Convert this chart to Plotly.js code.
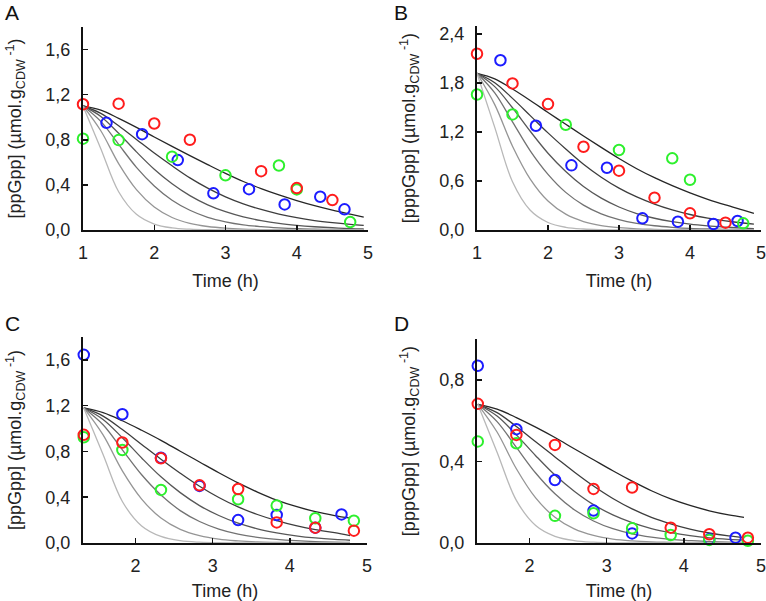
<!DOCTYPE html>
<html>
<head>
<meta charset="utf-8">
<script src="https://cdn.plot.ly/plotly-3.0.1.min.js"></script>
<style>
  html, body { margin: 0; padding: 0; background: #ffffff; }
  #chart { width: 766px; height: 601px; }
</style>
</head>
<body>
<div id="chart"></div>
<script>
// ---------- Panel A : [ppGpp] ----------
const A_redT   = [1, 1.5, 2, 2.5, 3.5, 4, 4.5];
const A_red    = [1.115, 1.12, 0.944, 0.80, 0.522, 0.372, 0.265];
const A_blueT  = [1.33, 1.83, 2.33, 2.83, 3.33, 3.83, 4.33, 4.67];
const A_blue   = [0.95, 0.85, 0.62, 0.325, 0.362, 0.227, 0.295, 0.183];
const A_greenT = [1, 1.5, 2.25, 3, 3.75, 4, 4.75];
const A_green  = [0.81, 0.797, 0.65, 0.485, 0.572, 0.36, 0.07];
const A_curveT = [1, 1.25, 1.5, 1.75, 2, 2.25, 2.5, 2.75, 3, 3.25, 3.5, 3.75, 4, 4.25, 4.5, 4.75, 4.94];
const A_curve1 = [1.10, 1.062, 0.99, 0.91, 0.825, 0.742, 0.66, 0.58, 0.502, 0.43, 0.367, 0.311, 0.261, 0.216, 0.176, 0.14, 0.114];
const A_curve2 = [1.10, 1.034, 0.924, 0.803, 0.682, 0.569, 0.462, 0.371, 0.294, 0.232, 0.182, 0.141, 0.109, 0.084, 0.065, 0.05, 0.041];
const A_curve3 = [1.10, 1.007, 0.858, 0.693, 0.539, 0.41, 0.305, 0.223, 0.162, 0.116, 0.083, 0.058, 0.041, 0.029, 0.02, 0.013, 0.01];
const A_curve4 = [1.10, 0.963, 0.759, 0.556, 0.391, 0.264, 0.175, 0.113, 0.073, 0.046, 0.03, 0.019, 0.011, 0.007, 0.004, 0.002, 0.002];
const A_curve5 = [1.10, 0.88, 0.589, 0.358, 0.204, 0.111, 0.059, 0.031, 0.016, 0.008, 0.004, 0.002, 0.001, 0, 0, 0, 0];
const A_curve6 = [1.10, 0.721, 0.339, 0.139, 0.053, 0.019, 0.007, 0.002, 0.001, 0, 0, 0, 0, 0, 0, 0, 0];

// ---------- Panel B : [pppGpp] ----------
const B_redT   = [1, 1.5, 2, 2.5, 3, 3.5, 4, 4.5];
const B_red    = [2.16, 1.796, 1.543, 1.02, 0.727, 0.396, 0.204, 0.09];
const B_blueT  = [1.33, 1.83, 2.33, 2.83, 3.33, 3.83, 4.33, 4.67];
const B_blue   = [2.08, 1.278, 0.792, 0.763, 0.143, 0.102, 0.073, 0.11];
const B_greenT = [1, 1.5, 2.25, 3, 3.75, 4, 4.75];
const B_green  = [1.66, 1.416, 1.29, 0.98, 0.878, 0.616, 0.082];
const B_curveT = [1, 1.25, 1.5, 1.75, 2, 2.25, 2.5, 2.75, 3, 3.25, 3.5, 3.75, 4, 4.25, 4.5, 4.75, 4.9];
const B_curve1 = [1.92, 1.853, 1.728, 1.588, 1.44, 1.296, 1.152, 1.012, 0.876, 0.751, 0.641, 0.543, 0.455, 0.376, 0.307, 0.244, 0.205];
const B_curve2 = [1.92, 1.805, 1.613, 1.402, 1.19, 0.993, 0.806, 0.647, 0.513, 0.405, 0.317, 0.246, 0.19, 0.146, 0.113, 0.086, 0.073];
const B_curve3 = [1.92, 1.757, 1.498, 1.21, 0.941, 0.716, 0.532, 0.39, 0.282, 0.202, 0.144, 0.102, 0.071, 0.05, 0.035, 0.023, 0.018];
const B_curve4 = [1.92, 1.68, 1.325, 0.97, 0.682, 0.461, 0.305, 0.198, 0.127, 0.081, 0.052, 0.033, 0.019, 0.012, 0.008, 0.004, 0.003];
const B_curve5 = [1.92, 1.536, 1.027, 0.624, 0.355, 0.194, 0.104, 0.054, 0.028, 0.014, 0.008, 0.004, 0.002, 0, 0, 0, 0];
const B_curve6 = [1.92, 1.258, 0.591, 0.242, 0.092, 0.033, 0.012, 0.004, 0.001, 0, 0, 0, 0, 0, 0, 0, 0];

// ---------- Panel C : [ppGpp] ----------
const C_redT   = [1.33, 1.83, 2.33, 2.83, 3.33, 3.83, 4.33, 4.83];
const C_red    = [0.945, 0.878, 0.74, 0.504, 0.472, 0.18, 0.134, 0.108];
const C_blueT  = [1.33, 1.83, 2.33, 2.83, 3.33, 3.83, 4.33, 4.67];
const C_blue   = [1.644, 1.125, 0.745, 0.499, 0.20, 0.245, 0.134, 0.25];
const C_greenT = [1.33, 1.83, 2.33, 3.33, 3.83, 4.33, 4.83];
const C_green  = [0.924, 0.813, 0.464, 0.382, 0.327, 0.216, 0.195];
const C_curveT = [1.33, 1.58, 1.83, 2.08, 2.33, 2.58, 2.83, 3.08, 3.33, 3.58, 3.83, 4.08, 4.33, 4.58, 4.78];
const C_curve1 = [1.18, 1.139, 1.068, 0.985, 0.897, 0.802, 0.708, 0.614, 0.525, 0.445, 0.375, 0.319, 0.274, 0.24, 0.218];
const C_curve2 = [1.18, 1.109, 0.991, 0.861, 0.732, 0.61, 0.496, 0.398, 0.315, 0.249, 0.195, 0.151, 0.117, 0.09, 0.065];
const C_curve3 = [1.18, 1.08, 0.92, 0.743, 0.578, 0.44, 0.327, 0.24, 0.173, 0.124, 0.089, 0.063, 0.044, 0.031, 0.024];
const C_curve4 = [1.18, 1.033, 0.814, 0.596, 0.419, 0.283, 0.188, 0.122, 0.078, 0.05, 0.032, 0.02, 0.012, 0.007, 0.005];
const C_curve5 = [1.18, 0.944, 0.631, 0.384, 0.218, 0.119, 0.064, 0.033, 0.018, 0.009, 0.005, 0.002, 0.001, 0, 0];
const C_curve6 = [1.18, 0.773, 0.363, 0.149, 0.057, 0.02, 0.007, 0.002, 0.001, 0, 0, 0, 0, 0, 0];

// ---------- Panel D : [pppGpp] ----------
const D_redT   = [1.33, 1.83, 2.33, 2.83, 3.33, 3.83, 4.33, 4.83];
const D_red    = [0.682, 0.53, 0.481, 0.265, 0.272, 0.075, 0.043, 0.026];
const D_blueT  = [1.33, 1.83, 2.33, 2.83, 3.33, 4.33, 4.67];
const D_blue   = [0.869, 0.558, 0.309, 0.159, 0.047, 0.018, 0.026];
const D_greenT = [1.33, 1.83, 2.33, 2.83, 3.33, 3.83, 4.33, 4.83];
const D_green  = [0.498, 0.489, 0.133, 0.146, 0.072, 0.039, 0.015, 0.011];
const D_curveT = [1.33, 1.58, 1.83, 2.08, 2.33, 2.58, 2.83, 3.08, 3.33, 3.58, 3.83, 4.08, 4.33, 4.58, 4.78];
const D_curve1 = [0.68, 0.656, 0.615, 0.568, 0.517, 0.462, 0.408, 0.354, 0.303, 0.256, 0.216, 0.184, 0.158, 0.138, 0.126];
const D_curve2 = [0.68, 0.639, 0.571, 0.496, 0.422, 0.348, 0.279, 0.218, 0.167, 0.126, 0.094, 0.068, 0.049, 0.035, 0.027];
const D_curve3 = [0.68, 0.622, 0.53, 0.428, 0.333, 0.254, 0.188, 0.138, 0.1, 0.071, 0.051, 0.036, 0.025, 0.018, 0.014];
const D_curve4 = [0.68, 0.595, 0.469, 0.343, 0.241, 0.163, 0.108, 0.07, 0.045, 0.029, 0.018, 0.012, 0.007, 0.004, 0.003];
const D_curve5 = [0.68, 0.544, 0.364, 0.221, 0.126, 0.069, 0.037, 0.019, 0.01, 0.005, 0.003, 0.001, 0.001, 0, 0];
const D_curve6 = [0.68, 0.445, 0.209, 0.086, 0.033, 0.012, 0.004, 0.001, 0.001, 0, 0, 0, 0, 0, 0];

// ---------- styling ----------
const curveColors = ['#262626', '#3d3d3d', '#575757', '#727272', '#959595', '#b8b8b8'];
const RED = '#ff1c1c', BLUE = '#1c1cff', GREEN = '#2ef02e';
const FONT = 'Liberation Sans, Arial, sans-serif';

const panels = [
  {xa:'x',  ya:'y',  curveT:A_curveT, curves:[A_curve1,A_curve2,A_curve3,A_curve4,A_curve5,A_curve6],
   blue:[A_blueT,A_blue], green:[A_greenT,A_green], red:[A_redT,A_red]},
  {xa:'x2', ya:'y2', curveT:B_curveT, curves:[B_curve1,B_curve2,B_curve3,B_curve4,B_curve5,B_curve6],
   blue:[B_blueT,B_blue], green:[B_greenT,B_green], red:[B_redT,B_red]},
  {xa:'x3', ya:'y3', curveT:C_curveT, curves:[C_curve1,C_curve2,C_curve3,C_curve4,C_curve5,C_curve6],
   blue:[C_blueT,C_blue], green:[C_greenT,C_green], red:[C_redT,C_red]},
  {xa:'x4', ya:'y4', curveT:D_curveT, curves:[D_curve1,D_curve2,D_curve3,D_curve4,D_curve5,D_curve6],
   blue:[D_blueT,D_blue], green:[D_greenT,D_green], red:[D_redT,D_red]}
];

const traces = [];
panels.forEach(p => {
  p.curves.forEach((c, i) => {
    traces.push({x:p.curveT, y:c, xaxis:p.xa, yaxis:p.ya, type:'scatter', mode:'lines',
      line:{color:curveColors[i], width:1.3, shape:'spline', smoothing:1},
      hoverinfo:'skip', showlegend:false});
  });
  [['blue',BLUE],['green',GREEN],['red',RED]].forEach(([k,col]) => {
    traces.push({x:p[k][0], y:p[k][1], xaxis:p.xa, yaxis:p.ya, type:'scatter', mode:'markers',
      marker:{symbol:'circle-open', size:10.5, color:col, line:{color:col, width:2}},
      cliponaxis:false, showlegend:false});
  });
});

function xAxis(domain, range, anchor) {
  return {domain:domain, range:range, anchor:anchor, showgrid:false, zeroline:false,
    showline:true, linecolor:'#111', linewidth:2, mirror:false,
    ticks:'inside', ticklen:5, tickwidth:1.5, tickcolor:'#111',
    tick0:0, dtick:1, ticklabelstandoff:5, ticklabeloverflow:'allow',
    tickfont:{family:FONT, size:18, color:'#222'},
    title:{text:'Time (h)', font:{family:FONT, size:18, color:'#222'}, standoff:13}};
}
function yAxis(domain, range, dtick, anchor, label) {
  return {domain:domain, range:range, anchor:anchor, showgrid:false, zeroline:false,
    showline:true, linecolor:'#111', linewidth:2,
    ticks:'inside', ticklen:5, tickwidth:1.5, tickcolor:'#111',
    tick0:0, dtick:dtick, tickformat:'.1f', ticklabelstandoff:7, ticklabeloverflow:'allow',
    tickfont:{family:FONT, size:18, color:'#222'},
    title:{text:label, font:{family:FONT, size:18, color:'#222'}, standoff:19}};
}

const W = 766, H = 601;
const dx = (a,b) => [a/W, b/W];
const dy = (top,bottom) => [(H-bottom)/H, (H-top)/H];

const ppLabel  = '[ppGpp] (µmol.g<sub>CDW</sub><sup> -1</sup>)';
const pppLabel = '[pppGpp] (µmol.g<sub>CDW</sub><sup> -1</sup>)';

const layout = {
  width:W, height:H, margin:{l:0, r:0, t:0, b:0},
  paper_bgcolor:'#ffffff', plot_bgcolor:'rgba(0,0,0,0)',
  separators:',.', showlegend:false,
  font:{family:FONT, color:'#222'},
  xaxis:  xAxis(dx(83,368), [1,5], 'y'),
  yaxis:  yAxis(dy(27,230), [0,1.8], 0.4, 'x', ppLabel),
  xaxis2: xAxis(dx(477,761), [1,5], 'y2'),
  yaxis2: yAxis(dy(26,230), [0,2.5], 0.6, 'x2', pppLabel),
  xaxis3: xAxis(dx(83,367), [1.32,5], 'y3'),
  yaxis3: yAxis(dy(337,543), [0,1.8], 0.4, 'x3', ppLabel),
  xaxis4: xAxis(dx(477,761), [1.32,5], 'y4'),
  yaxis4: yAxis(dy(339,543), [0,1.0], 0.4, 'x4', pppLabel),
  annotations: [
    {text:'A', x:3/W, y:1-13/H, xref:'paper', yref:'paper', xanchor:'left', yanchor:'middle', showarrow:false, font:{family:FONT, size:21, color:'#111'}},
    {text:'B', x:392/W, y:1-13/H, xref:'paper', yref:'paper', xanchor:'left', yanchor:'middle', showarrow:false, font:{family:FONT, size:21, color:'#111'}},
    {text:'C', x:3/W, y:1-323/H, xref:'paper', yref:'paper', xanchor:'left', yanchor:'middle', showarrow:false, font:{family:FONT, size:21, color:'#111'}},
    {text:'D', x:392/W, y:1-323/H, xref:'paper', yref:'paper', xanchor:'left', yanchor:'middle', showarrow:false, font:{family:FONT, size:21, color:'#111'}}
  ]
};

Plotly.newPlot('chart', traces, layout, {displayModeBar:false, staticPlot:true});
</script>
</body>
</html>
